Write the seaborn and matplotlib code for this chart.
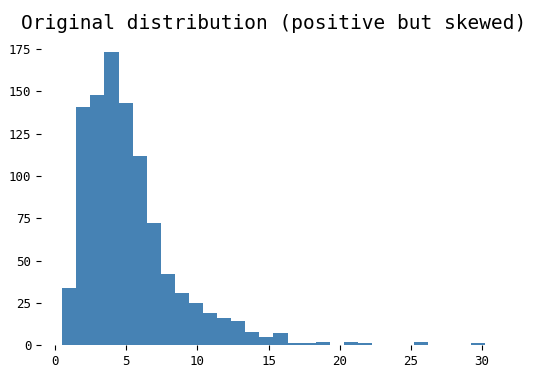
import numpy as np
import matplotlib
matplotlib.use("Agg")
import matplotlib.pyplot as plt
import seaborn as sns

# counts per bin (30 bins)
bin_start = 0.49
bin_end = 30.2
counts = [34, 141, 148, 173, 143, 112, 72, 42, 31, 25,
          19, 16, 14, 8, 5, 7, 1, 1, 2, 0,
          2, 1, 0, 0, 0, 2, 0, 0, 0, 1]

edges = np.linspace(bin_start, bin_end, len(counts) + 1)
centers = (edges[:-1] + edges[1:]) / 2

sns.set_style("white")
plt.rcParams['font.family'] = ['DejaVu Sans Mono', 'DejaVu Sans']
plt.rcParams['text.color'] = 'black'
plt.rcParams['xtick.color'] = 'black'
plt.rcParams['ytick.color'] = 'black'

fig, ax = plt.subplots(figsize=(5.41, 3.78), dpi=100)
sns.histplot(x=centers, weights=counts, bins=len(counts), binrange=(bin_start, bin_end),
             color="steelblue", alpha=1, linewidth=0, ax=ax)

ax.set_title("Original distribution (positive but skewed)", fontsize=14, color="black")
ax.set_xlabel("")
ax.set_ylabel("")
ax.set_xticks([0, 5, 10, 15, 20, 25, 30])
ax.set_yticks([0, 25, 50, 75, 100, 125, 150, 175])
ax.tick_params(axis="both", which="major", length=3.5, width=0.8, color="black",
               labelcolor="black", labelsize=9, bottom=True, left=True)
sns.despine(left=True, bottom=True)

plt.subplots_adjust(left=0.076, right=0.935, bottom=0.087, top=0.9)
plt.savefig("out.png", dpi=100)
